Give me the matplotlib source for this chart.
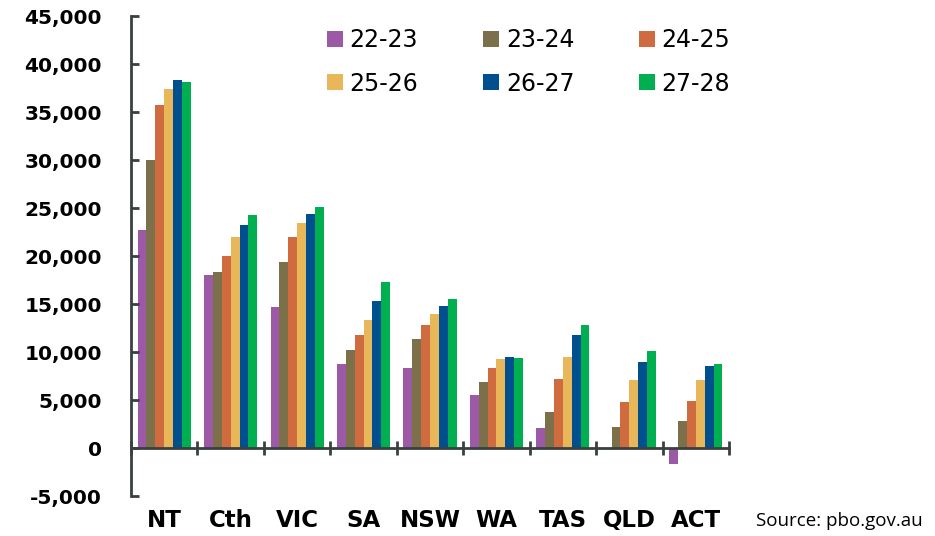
import numpy as np
import matplotlib
matplotlib.use("Agg")
import matplotlib.pyplot as plt
from matplotlib.ticker import FuncFormatter

# Data
states = ["NT", "Cth", "VIC", "SA", "NSW", "WA", "TAS", "QLD", "ACT"]
years = ["22-23", "23-24", "24-25", "25-26", "26-27", "27-28"]
v_22_23 = [22700, 18000, 14650, 8780, 8370, 5490, 2050, 0, -1630]
v_23_24 = [30000, 18370, 19410, 10210, 11350, 6910, 3780, 2220, 2780]
v_24_25 = [35700, 19970, 21950, 11770, 12780, 8370, 7220, 4760, 4900]
v_25_26 = [37430, 21950, 23400, 13330, 13920, 9240, 9510, 7050, 7050]
v_26_27 = [38300, 23260, 24410, 15350, 14790, 9510, 11770, 8920, 8510]
v_27_28 = [38160, 24240, 25100, 17330, 15490, 9340, 12780, 10070, 8780]
series = [v_22_23, v_23_24, v_24_25, v_25_26, v_26_27, v_27_28]
colors = ["#9B59A6", "#7B7049", "#D06B40", "#E8B75A", "#00508F", "#00B050"]

axis_col = "#3A4040"

fig = plt.figure(figsize=(9.35, 5.36), dpi=100)
ax = fig.add_axes([0.1401, 0.0746, 0.6396, 0.8955])

x = np.arange(len(states))
w = 0.8 / len(series)
handles = []
for i, (vals, c) in enumerate(zip(series, colors)):
    b = ax.bar(x - 0.4 + w * (i + 0.5), vals, width=w, color=c, label=years[i])
    handles.append(b)

ax.set_xlim(-0.5, len(states) - 0.5)
ax.set_ylim(-5000, 45000)
ax.set_yticks(np.arange(-5000, 45001, 5000))
ax.yaxis.set_major_formatter(FuncFormatter(lambda v, p: f"{int(v):,}"))

for s in ["top", "right"]:
    ax.spines[s].set_visible(False)
ax.spines["bottom"].set_position(("data", 0))
for s in ["left", "bottom"]:
    ax.spines[s].set_color(axis_col)
    ax.spines[s].set_linewidth(2)

ax.tick_params(axis="y", direction="in", length=6, width=2, color=axis_col,
               pad=21, labelsize=14.5)
for lab in ax.get_yticklabels():
    lab.set_fontweight("bold")

# category boundaries as major ticks, names as minor ticks
ax.set_xticks(np.arange(-0.5, len(states), 1.0))
ax.set_xticklabels([])
ax.tick_params(axis="x", which="major", direction="inout", length=10, width=2,
               color=axis_col)
ax.set_xticks(x, states, minor=True)
ax.tick_params(axis="x", which="minor", length=0, pad=44, labelsize=16.5)
for lab in ax.get_xticklabels(minor=True):
    lab.set_fontweight("bold")

order = [0, 3, 1, 4, 2, 5]
fig.legend([handles[i] for i in order], [years[i] for i in order],
           ncol=3, loc="upper left", bbox_to_anchor=(0.350, 0.9475),
           frameon=False, fontsize=17, handlelength=0.65, handleheight=0.65,
           handletextpad=0.3, columnspacing=2.75, labelspacing=0.82,
           borderpad=0, borderaxespad=0)

fig.text(0.8086, 0.028, "Source: pbo.gov.au", fontsize=13.5,
         family="Open Sans", va="center", ha="left")

fig.savefig("out.png", dpi=100)
